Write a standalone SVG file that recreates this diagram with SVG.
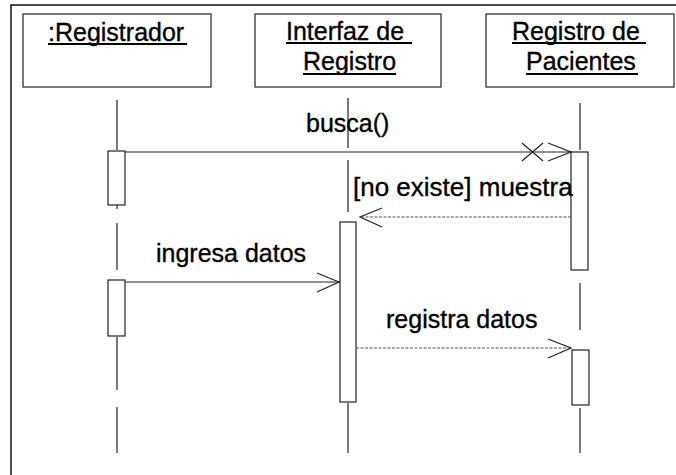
<svg xmlns="http://www.w3.org/2000/svg" width="676" height="475" viewBox="0 0 676 475">
<style>
.frame{fill:none;stroke:#111;stroke-width:1.5}
.box{fill:#fff;stroke:#222;stroke-width:1.2}
.act{fill:#fff;stroke:#222;stroke-width:1.2}
.life{stroke:#222;stroke-width:1.2;fill:none}
.msg{stroke:#222;stroke-width:1.2;fill:none}
.ret{stroke:#555;stroke-width:1.2;fill:none;stroke-dasharray:3 1.5}
.head{stroke:#222;stroke-width:1.2;fill:none}
.ul{stroke:#000;stroke-width:2}
text{font-family:"Liberation Sans",Arial,sans-serif;font-size:25px;fill:#000;stroke:#000;stroke-width:0.35}
</style>
<rect width="676" height="475" fill="#fff"/>
<path class="frame" d="M11,475 V5 H676"/>

<g id="registrador">
<rect class="box" x="23" y="14" width="188" height="73"/>
<text x="48" y="41">:Registrador</text>
<line class="ul" x1="48" y1="44" x2="187" y2="44"/>
<path class="life" d="M117,100 V150 M117,205 V209 M117,223 V270 M117,337 V390 M117,407 V453"/>
<rect class="act" x="108" y="151" width="17" height="54"/>
<rect class="act" x="108" y="280" width="17" height="56"/>
</g>

<g id="interfaz">
<rect class="box" x="255" y="14" width="186" height="73"/>
<text x="286" y="40">Interfaz de</text>
<line class="ul" x1="286" y1="43" x2="412" y2="43"/>
<text x="303" y="70">Registro</text>
<line class="ul" x1="303" y1="74" x2="396" y2="74"/>
<path class="life" d="M348,98 V148 M348,160 V212 M348,403 V453"/>
<rect class="act" x="340" y="222" width="16" height="180"/>
</g>

<g id="pacientes">
<rect class="box" x="486" y="14" width="188" height="73"/>
<text x="512" y="40">Registro de</text>
<line class="ul" x1="512" y1="43" x2="646" y2="43"/>
<text x="526" y="70">Pacientes</text>
<line class="ul" x1="526" y1="74" x2="638" y2="74"/>
<path class="life" d="M580,103 V150 M580,283 V330 M580,408 V453"/>
<rect class="act" x="571" y="152" width="17" height="118"/>
<rect class="act" x="572" y="350" width="17" height="55"/>
</g>

<g id="connectors">
<line class="msg" x1="125" y1="152" x2="571" y2="152"/>
<path class="head" d="M522,143 L543,161 M522,161 L543,143"/>
<path class="head" d="M548,143 L571,152 L548,161"/>
<text x="306" y="132">busca()</text>

<line class="ret" x1="571" y1="217" x2="361" y2="217"/>
<path class="head" d="M382,208 L360,217 L382,227"/>
<text x="353" y="196" style="font-size:26px">[no existe] muestra</text>

<line class="msg" x1="125" y1="282" x2="340" y2="282"/>
<path class="head" d="M317,273 L339,282 L317,292"/>
<text x="156" y="262">ingresa datos</text>

<line class="ret" x1="356" y1="348" x2="571" y2="348"/>
<path class="head" d="M548,339 L571,348 L548,358"/>
<text x="386" y="328">registra datos</text>
</g>
</svg>
